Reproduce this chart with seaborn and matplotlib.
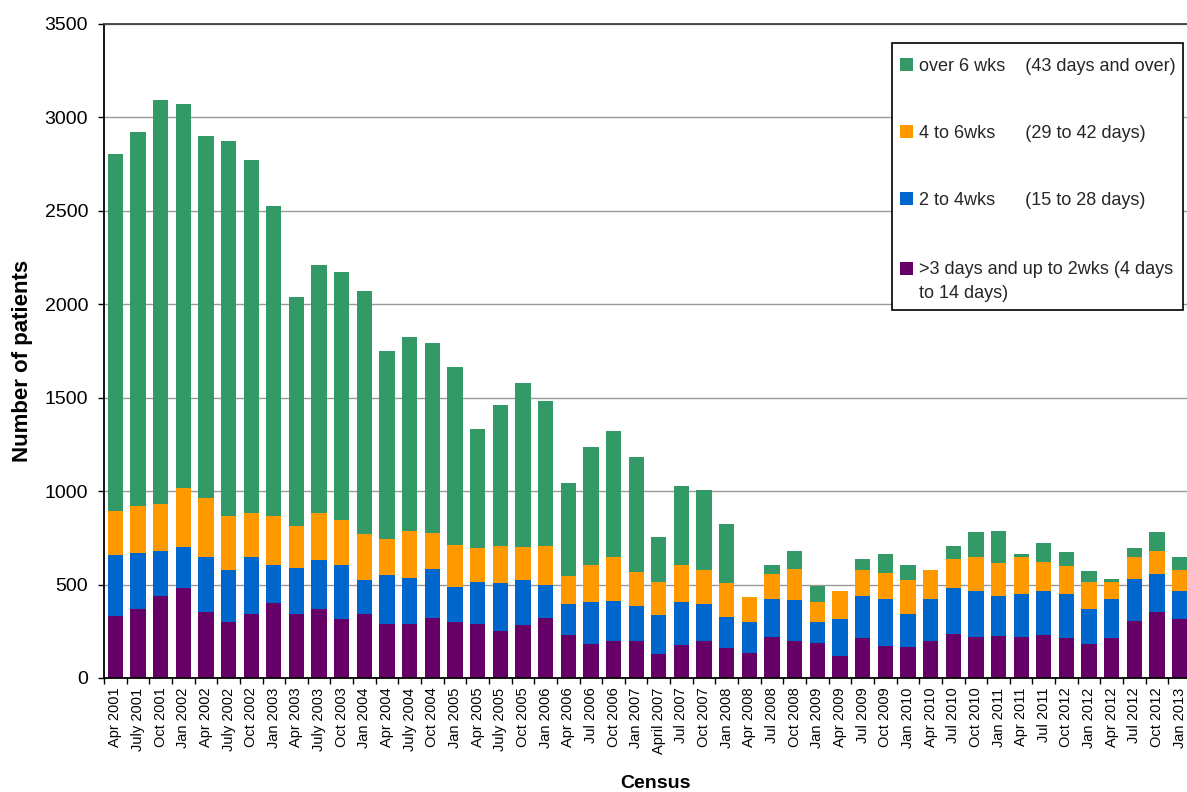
import numpy as np
import pandas as pd
import matplotlib
matplotlib.use("Agg")
import matplotlib.pyplot as plt
from matplotlib.patches import Patch, Rectangle
from matplotlib.legend_handler import HandlerBase
from matplotlib.offsetbox import VPacker, DrawingArea
import seaborn as sns

census = ["Apr 2001", "July 2001", "Oct 2001", "Jan 2002", "Apr 2002", "July 2002",
          "Oct 2002", "Jan 2003", "Apr 2003", "July 2003", "Oct 2003", "Jan 2004",
          "Apr 2004", "July 2004", "Oct 2004", "Jan 2005", "Apr 2005", "July 2005",
          "Oct 2005", "Jan 2006", "Apr 2006", "Jul 2006", "Oct 2006", "Jan 2007",
          "April 2007", "Jul 2007", "Oct 2007", "Jan 2008", "Apr 2008", "Jul 2008",
          "Oct 2008", "Jan 2009", "Apr 2009", "Jul 2009", "Oct 2009", "Jan 2010",
          "Apr 2010", "Jul 2010", "Oct 2010", "Jan 2011", "Apr 2011", "Jul 2011",
          "Oct 2012", "Jan 2012", "Apr 2012", "Jul 2012", "Oct 2012", "Jan 2013"]

# >3 days and up to 2 wks
short_stay = [334, 371, 441, 484, 355, 301, 340, 404, 340, 371, 318, 340,
              291, 290, 322, 301, 290, 253, 285, 322, 232, 183, 199, 199,
              130, 178, 200, 163, 136, 221, 200, 189, 120, 216, 173, 168,
              200, 238, 221, 227, 221, 232, 216, 184, 216, 307, 355, 318]
# 2 to 4 wks
wk2to4 = [322, 296, 236, 219, 295, 279, 306, 199, 247, 259, 285, 187,
          259, 246, 262, 187, 225, 256, 240, 177, 165, 225, 214, 187,
          208, 230, 198, 166, 166, 204, 220, 113, 198, 225, 252, 177,
          225, 241, 247, 214, 226, 231, 231, 187, 209, 225, 199, 145]
# 4 to 6 wks
wk4to6 = [240, 252, 252, 312, 312, 286, 236, 263, 225, 252, 240, 246,
          192, 252, 192, 224, 181, 198, 177, 208, 150, 198, 235, 182,
          177, 198, 182, 182, 134, 134, 166, 107, 150, 139, 139, 182,
          155, 160, 182, 177, 203, 160, 155, 145, 91, 118, 128, 117]
# over 6 wks
over6 = [1910, 2004, 2166, 2057, 1940, 2010, 1891, 1661, 1227, 1329, 1329, 1299,
         1008, 1038, 1016, 951, 636, 753, 876, 775, 497, 630, 674, 615,
         240, 422, 428, 311, 0, 48, 96, 86, 0, 59, 97, 80,
         0, 65, 129, 171, 16, 97, 70, 59, 16, 48, 97, 65]

legend_labels = ["over 6 wks    (43 days and over)",
                 "4 to 6wks      (29 to 42 days)",
                 "2 to 4wks      (15 to 28 days)",
                 ">3 days and up to 2wks (4 days\nto 14 days)"]
colors = ["#339966", "#FF9900", "#0066CC", "#660066"]

n = len(census)
df = pd.DataFrame({"pos": list(range(n)), "short": short_stay, "w24": wk2to4,
                   "w46": wk4to6, "over": over6})
df["c1"] = df["short"]
df["c2"] = df["c1"] + df["w24"]
df["c3"] = df["c2"] + df["w46"]
df["c4"] = df["c3"] + df["over"]

sns.set_theme(style="white")
plt.rcParams['font.family'] = ['Liberation Sans', 'DejaVu Sans']

fig = plt.figure(figsize=(11.87, 7.92), dpi=100)
ax = fig.add_axes([104 / 1187, 1 - 678 / 792, 1087 / 1187, 654 / 792])

for col, c in zip(["c4", "c3", "c2", "c1"], colors):
    sns.barplot(data=df, x="pos", y=col, order=list(range(n)), color=c,
                saturation=1, width=0.675, edgecolor="none", linewidth=0,
                errorbar=None, ax=ax)

ax.set_xlim(-0.5, n - 0.5)
ax.set_ylim(0, 3500)
ax.set_yticks(np.arange(0, 3501, 500))
ax.yaxis.grid(True, color="#999999", lw=1.0)
ax.xaxis.grid(False)
ax.set_axisbelow(True)

for s in ["left", "bottom"]:
    ax.spines[s].set_color("black")
    ax.spines[s].set_linewidth(1.3)
ax.spines["top"].set_color("#404040")
ax.spines["top"].set_linewidth(1.3)
ax.spines["right"].set_visible(False)

ax.set_xticks(range(n))
ax.set_xticklabels(census, rotation=90, fontsize=10.5)
ax.set_xticks(np.arange(-0.5, n, 1), minor=True)
ax.tick_params(axis="x", which="major", length=0, pad=7, labelcolor="black")
ax.tick_params(axis="x", which="minor", length=4, width=1, bottom=True,
               direction="out", color="black")
ax.tick_params(axis="y", which="major", left=True, length=4.5, width=1,
               direction="out", color="black", pad=7, labelsize=14,
               labelcolor="black")

ax.set_ylabel("Number of patients", fontsize=16, fontweight="bold", color="black")
ax.yaxis.set_label_coords(-0.0754, 0.485)
ax.yaxis.label.set_va("center")
ax.set_xlabel("Census", fontsize=14, fontweight="bold", color="black")
ax.xaxis.set_label_coords(0.507, -0.1483)

LINESP = 1.56


class SquareHandler(HandlerBase):
    def __init__(self, shift_lines=0.0):
        super().__init__()
        self.shift_lines = shift_lines

    def create_artists(self, legend, orig_handle, xdescent, ydescent, width,
                       height, fontsize, trans):
        s = 0.72 * fontsize
        x0 = -xdescent + (width - s) / 2
        yc = 0.36 * fontsize + self.shift_lines * 0.5 * 0.905 * LINESP * fontsize
        p = Rectangle((x0, yc - s / 2), s, s, facecolor=orig_handle.get_facecolor(),
                      edgecolor="none", transform=trans)
        return [p]


handles = [Patch(facecolor=c, edgecolor="none") for c in colors]
hmap = {h: SquareHandler(1.0 if "\n" in lab else 0.0)
        for h, lab in zip(handles, legend_labels)}
leg = fig.legend(handles, legend_labels, loc="upper left",
                 bbox_to_anchor=(892 / 1187, 1 - 43 / 792),
                 bbox_transform=fig.transFigure, frameon=True, fancybox=False,
                 edgecolor="black", framealpha=1, fontsize=13,
                 handlelength=0.75, handleheight=2.1, handletextpad=0.28,
                 labelspacing=2.1, borderpad=0.45, borderaxespad=0,
                 handler_map=hmap)
leg.get_frame().set_linewidth(1.2)
for t in leg.get_texts():
    t.set_linespacing(LINESP)

# extra gap above the two-line entry, as in the original legend
try:
    column = leg._legend_handle_box.get_children()[0]
    items = column.get_children()
    spacer = DrawingArea(0, 6.3)
    wrapped = VPacker(children=[spacer, items[-1]], pad=0, sep=0, align="left")
    wrapped.set_figure(fig)
    items[-1] = wrapped
except Exception:
    pass

fig.savefig("out.png", dpi=100)
